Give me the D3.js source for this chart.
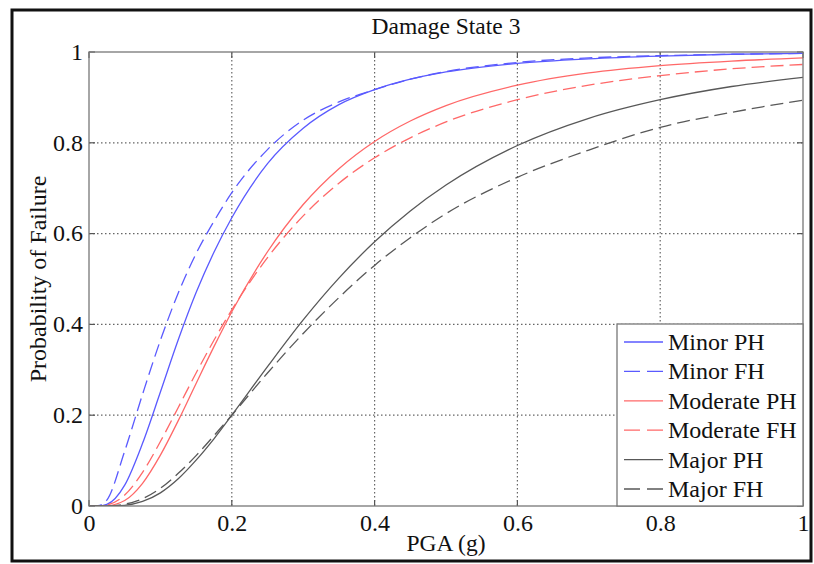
<!DOCTYPE html>
<html>
<head>
<meta charset="utf-8">
<script src="https://cdn.jsdelivr.net/npm/d3@7"></script>
<style>
  html, body { margin: 0; padding: 0; background: #fff; }
  svg { display: block; }
  text { font-family: "Liberation Serif", "Times New Roman", serif; fill: #111; }
</style>
</head>
<body>
<svg id="chart" width="814" height="564"></svg>
<script>
const title = "Damage State 3";
const xLabel = "PGA (g)";
const yLabel = "Probability of Failure";
const xTicks = [0, 0.2, 0.4, 0.6, 0.8, 1];
const yTicks = [0, 0.2, 0.4, 0.6, 0.8, 1];
const xTickLabels = ["0", "0.2", "0.4", "0.6", "0.8", "1"];
const yTickLabels = ["0", "0.2", "0.4", "0.6", "0.8", "1"];

const pga        = [0, 0.0125, 0.025, 0.05, 0.075, 0.1, 0.125, 0.15, 0.175, 0.2, 0.25, 0.3, 0.35, 0.4, 0.45, 0.5, 0.6, 0.7, 0.8, 0.9, 1.0];
const minorPH    = [0, 0, 0.0035, 0.046, 0.138, 0.251, 0.366, 0.470, 0.559, 0.635, 0.754, 0.832, 0.884, 0.917, 0.940, 0.956, 0.975, 0.985, 0.991, 0.995, 0.997];
const minorFH    = [0, 0.0005, 0.013, 0.121, 0.246, 0.365, 0.469, 0.556, 0.627, 0.690, 0.785, 0.850, 0.890, 0.917, 0.940, 0.957, 0.977, 0.987, 0.992, 0.995, 0.997];
const moderatePH = [0, 0, 0.0005, 0.012, 0.050, 0.112, 0.188, 0.270, 0.351, 0.428, 0.560, 0.664, 0.743, 0.803, 0.848, 0.882, 0.927, 0.954, 0.970, 0.980, 0.987];
const moderateFH = [0, 0, 0.002, 0.024, 0.074, 0.142, 0.217, 0.293, 0.365, 0.432, 0.547, 0.639, 0.711, 0.767, 0.811, 0.846, 0.895, 0.927, 0.948, 0.963, 0.9725];
const majorPH    = [0, 0, 0, 0.0016, 0.010, 0.029, 0.060, 0.101, 0.148, 0.200, 0.307, 0.410, 0.502, 0.582, 0.650, 0.707, 0.794, 0.854, 0.895, 0.924, 0.944];
const majorFH    = [0, 0, 0.0002, 0.004, 0.016, 0.039, 0.072, 0.111, 0.155, 0.200, 0.293, 0.380, 0.459, 0.530, 0.591, 0.644, 0.724, 0.784, 0.834, 0.867, 0.894];

const seriesNames = ["Minor PH", "Minor FH", "Moderate PH", "Moderate FH", "Major PH", "Major FH"];
const seriesValues = [minorPH, minorFH, moderatePH, moderateFH, majorPH, majorFH];
const seriesColors = ["#5a5aff", "#5a5aff", "#ff6868", "#ff6868", "#585858", "#585858"];
const seriesDashed = [false, true, false, true, false, true];

const svg = d3.select("#chart");
const margin = { left: 89, right: 803, top: 52, bottom: 506 };
const serif = '"Liberation Serif", "Times New Roman", serif';

// outer frame
svg.append("rect").attr("x", 12).attr("y", 10).attr("width", 799).attr("height", 551)
  .attr("fill", "#fff").attr("stroke", "#111").attr("stroke-width", 3);

const x = d3.scaleLinear().domain([0, 1]).range([margin.left, margin.right]);
const y = d3.scaleLinear().domain([0, 1]).range([margin.bottom, margin.top]);

// grid
const grid = svg.append("g");
grid.selectAll("line.gx").data(xTicks.slice(1, -1)).join("line")
  .attr("x1", d => x(d)).attr("x2", d => x(d)).attr("y1", margin.top).attr("y2", margin.bottom)
  .attr("stroke", "#666").attr("stroke-width", 1.2).attr("stroke-dasharray", "1.5,2.5");
grid.selectAll("line.gy").data(yTicks.slice(1, -1)).join("line")
  .attr("y1", d => y(d)).attr("y2", d => y(d)).attr("x1", margin.left).attr("x2", margin.right)
  .attr("stroke", "#666").attr("stroke-width", 1.2).attr("stroke-dasharray", "1.5,2.5");

// axes
const xAxis = d3.axisBottom(x).tickValues(xTicks).tickFormat((d, i) => xTickLabels[i]).tickSize(0).tickPadding(6);
const yAxis = d3.axisLeft(y).tickValues(yTicks).tickFormat((d, i) => yTickLabels[i]).tickSize(0).tickPadding(6);
const gx = svg.append("g").attr("transform", `translate(0,${margin.bottom})`).call(xAxis);
const gy = svg.append("g").attr("transform", `translate(${margin.left},0)`).call(yAxis);
[gx, gy].forEach(g => {
  g.select(".domain").remove();
  g.selectAll("text").style("font-family", serif)
    .style("font-size", "24px").attr("fill", "#111");
});
gx.selectAll("text").attr("dy", "0.8em");
gy.selectAll("text").attr("dy", "0.3em");

// small inward tick marks on all sides
const tk = svg.append("g").attr("stroke", "#555").attr("stroke-width", 1.2);
xTicks.forEach(d => {
  tk.append("line").attr("x1", x(d)).attr("x2", x(d)).attr("y1", margin.bottom).attr("y2", margin.bottom - 6);
  tk.append("line").attr("x1", x(d)).attr("x2", x(d)).attr("y1", margin.top).attr("y2", margin.top + 6);
});
yTicks.forEach(d => {
  tk.append("line").attr("y1", y(d)).attr("y2", y(d)).attr("x1", margin.left).attr("x2", margin.left + 6);
  tk.append("line").attr("y1", y(d)).attr("y2", y(d)).attr("x1", margin.right).attr("x2", margin.right - 6);
});

// clip
svg.append("clipPath").attr("id", "clip").append("rect")
  .attr("x", margin.left).attr("y", margin.top - 2)
  .attr("width", margin.right - margin.left).attr("height", margin.bottom - margin.top + 2);

const line = d3.line().x(d => x(d[0])).y(d => y(d[1])).curve(d3.curveMonotoneX);
const lines = svg.append("g").attr("clip-path", "url(#clip)");
seriesValues.forEach((vals, i) => {
  lines.append("path")
    .datum(pga.map((p, j) => [p, vals[j]]))
    .attr("fill", "none")
    .attr("stroke", seriesColors[i])
    .attr("stroke-width", 1.3)
    .attr("stroke-dasharray", seriesDashed[i] ? "13,6" : null)
    .attr("d", line);
});

// plot box
svg.append("rect").attr("x", margin.left).attr("y", margin.top)
  .attr("width", margin.right - margin.left).attr("height", margin.bottom - margin.top)
  .attr("fill", "none").attr("stroke", "#777").attr("stroke-width", 1.3);

// title & labels
svg.append("text").attr("x", 446).attr("y", 34).attr("text-anchor", "middle")
  .style("font-size", "23.5px").text(title);
svg.append("text").attr("x", 446).attr("y", 551).attr("text-anchor", "middle")
  .style("font-size", "23.5px").text(xLabel);
svg.append("text").attr("transform", "translate(46,279) rotate(-90)").attr("text-anchor", "middle")
  .style("font-size", "24px").text(yLabel);

// legend
const lg = svg.append("g");
const lgX = 617, lgY = 324, lgW = margin.right - 617, lgH = margin.bottom - 324;
lg.append("rect").attr("x", lgX).attr("y", lgY).attr("width", lgW).attr("height", lgH)
  .attr("fill", "#fff").attr("stroke", "#777").attr("stroke-width", 1.3);
seriesNames.forEach((name, i) => {
  const yy = 342 + i * 29.4;
  lg.append("line").attr("x1", 624).attr("x2", 663).attr("y1", yy).attr("y2", yy)
    .attr("stroke", seriesColors[i]).attr("stroke-width", 1.3)
    .attr("stroke-dasharray", seriesDashed[i] ? "16,7" : null);
  lg.append("text").attr("x", 668).attr("y", yy + 8).style("font-size", "24px").text(name);
});
</script>
</body>
</html>
